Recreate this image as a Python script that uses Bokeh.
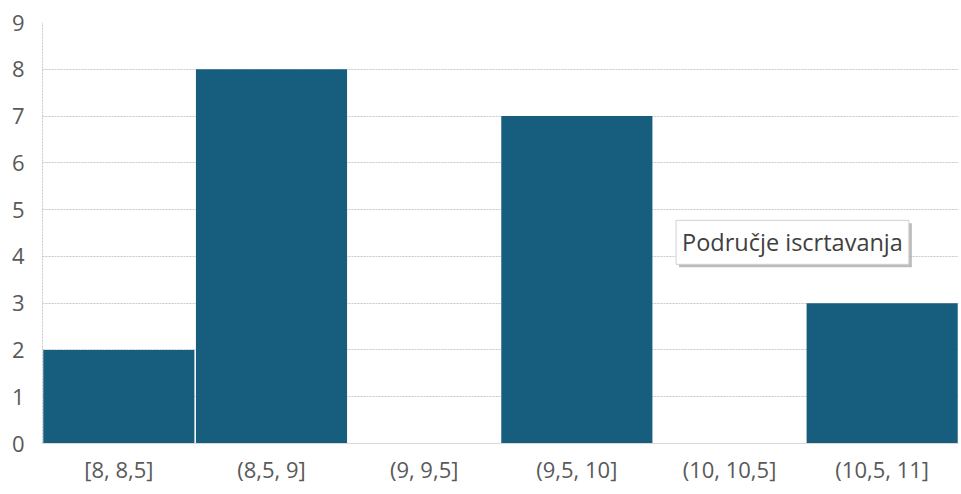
from bokeh.plotting import figure
from bokeh.models import FactorRange, Range1d, FixedTicker, Label
from bokeh.embed import file_html
from bokeh.resources import INLINE

bins = ["[8, 8,5]", "(8,5, 9]", "(9, 9,5]", "(9,5, 10]", "(10, 10,5]", "(10,5, 11]"]
counts = [2, 8, 0, 7, 0, 3]
y_ticks = [0, 1, 2, 3, 4, 5, 6, 7, 8, 9]

FONT = "Open Sans"
TXT = "#595959"

p = figure(x_range=FactorRange(*bins, range_padding=0), y_range=Range1d(0, 9),
           width=960, height=490, output_backend="svg", toolbar_location=None,
           min_border_left=42, min_border_right=2, min_border_top=22, min_border_bottom=47)
p.outline_line_color = None
p.background_fill_color = "white"
p.border_fill_color = "white"

p.vbar(x=bins, top=counts, width=0.99, color="#175E7E", line_color=None)

p.xgrid.grid_line_color = None
p.ygrid.grid_line_color = "#c8c8c8"
p.ygrid.grid_line_dash = "2 1"
p.ygrid.grid_line_width = 1
p.yaxis.ticker = FixedTicker(ticks=y_ticks)

p.yaxis.axis_line_color = "#c8c8c8"
p.yaxis.axis_line_dash = "2 1"
p.yaxis.major_tick_line_color = None
p.yaxis.minor_tick_line_color = None
p.yaxis.major_label_standoff = 12
p.yaxis.major_label_text_font = FONT
p.yaxis.major_label_text_font_size = "22px"
p.yaxis.major_label_text_color = TXT

p.xaxis.axis_line_color = "#d9d9d9"
p.xaxis.major_tick_line_color = None
p.xaxis.minor_tick_line_color = None
p.xaxis.major_label_standoff = 4
p.xaxis.major_label_text_font = FONT
p.xaxis.major_label_text_font_size = "22px"
p.xaxis.major_label_text_color = TXT

# tooltip-like callout with shadow
shadow = Label(x=4.15, y=3.83, text="Područje iscrtavanja", text_font=FONT,
               text_font_size="23.5px", text_color="#a0a0a0", background_fill_color="#a0a0a0",
               background_fill_alpha=0.7, padding=6, x_offset=3, y_offset=-3)
tip = Label(x=4.15, y=3.83, text="Područje iscrtavanja", text_font=FONT,
            text_font_size="23.5px", text_color="#404040", background_fill_color="white",
            border_line_color="#d0d0d0", padding=6)
p.add_layout(shadow)
p.add_layout(tip)

open("out.html", "w").write(file_html(p, INLINE))
